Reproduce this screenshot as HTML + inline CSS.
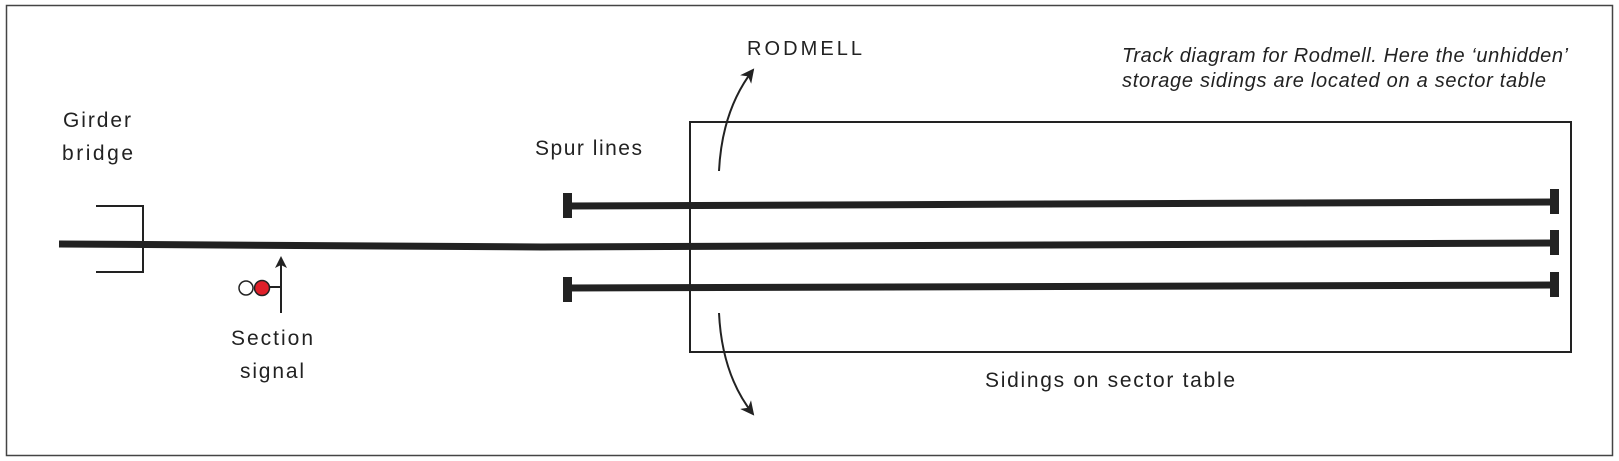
<!DOCTYPE html>
<html><head><meta charset="utf-8"><style>
html,body{margin:0;padding:0;background:#fff;}
svg{display:block;}
text{font-family:"Liberation Sans",sans-serif;fill:#222;}
</style></head><body>
<svg width="1619" height="461" viewBox="0 0 1619 461" xmlns="http://www.w3.org/2000/svg">
<defs>
<marker id="ah" markerWidth="12" markerHeight="12" refX="10" refY="6" orient="auto" markerUnits="userSpaceOnUse">
<path d="M0,0 L12,6 L0,12 L3,6 Z" fill="#222"/>
</marker>
<marker id="ah2" markerWidth="14" markerHeight="14" refX="12" refY="7" orient="auto" markerUnits="userSpaceOnUse">
<path d="M0,0 L14,7 L0,14 L4,7 Z" fill="#222"/>
</marker>
</defs>
<rect x="6.5" y="5.5" width="1606" height="450" fill="none" stroke="#444" stroke-width="1.5"/>
<rect x="690" y="122" width="881" height="230" fill="none" stroke="#222" stroke-width="2"/>
<path d="M96,206 H143 V272 H96" fill="none" stroke="#222" stroke-width="2"/>
<path d="M59,244 L542,247 L1554,243" fill="none" stroke="#222" stroke-width="7"/>
<rect x="1550" y="230" width="9" height="25" fill="#222"/>
<path d="M567,206 L1554,202" fill="none" stroke="#222" stroke-width="7"/>
<rect x="563" y="193" width="9" height="25" fill="#222"/>
<rect x="1550" y="189" width="9" height="25" fill="#222"/>
<path d="M567,288 L1554,285" fill="none" stroke="#222" stroke-width="7"/>
<rect x="563" y="277" width="9" height="25" fill="#222"/>
<rect x="1550" y="272" width="9" height="25" fill="#222"/>
<path d="M719,171 Q722,110 753,70" fill="none" stroke="#222" stroke-width="2" marker-end="url(#ah2)"/>
<path d="M719,313 Q722,375 753,414" fill="none" stroke="#222" stroke-width="2" marker-end="url(#ah2)"/>
<line x1="262" y1="287" x2="281" y2="287" stroke="#222" stroke-width="2"/>
<line x1="281" y1="313" x2="281" y2="258" stroke="#222" stroke-width="2" marker-end="url(#ah)"/>
<circle cx="246" cy="288" r="7" fill="#fff" stroke="#222" stroke-width="1.5"/>
<circle cx="262" cy="288" r="7.5" fill="#e0202a" stroke="#222" stroke-width="1.5"/>
<text x="63" y="127" font-size="21" textLength="68">Girder</text>
<text x="62" y="160" font-size="21" textLength="71">bridge</text>
<text x="535" y="155" font-size="21" textLength="107">Spur lines</text>
<text x="747" y="55" font-size="20" textLength="115">RODMELL</text>
<text x="231" y="345" font-size="21" textLength="82">Section</text>
<text x="240" y="378" font-size="21" textLength="64">signal</text>
<text x="985" y="387" font-size="21" textLength="250">Sidings on sector table</text>
<text x="1122" y="62" font-size="20" font-style="italic" textLength="446">Track diagram for Rodmell. Here the ‘unhidden’</text>
<text x="1122" y="87" font-size="20" font-style="italic" textLength="424">storage sidings are located on a sector table</text>
</svg>
</body></html>
